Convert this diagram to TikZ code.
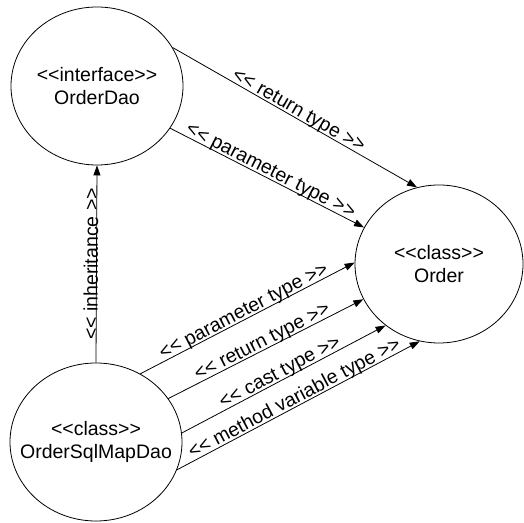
\documentclass[tikz,border=0pt]{standalone}
\usepackage{fontspec}
\newfontfamily\umlfont{Liberation Sans}
\usetikzlibrary{arrows.meta,shapes.geometric}
\begin{document}
\begin{tikzpicture}[x=1pt,y=1pt,
  umltext/.style={font=\umlfont\fontsize{19.5}{23}\selectfont},
  umlnode/.style={draw, ellipse, line width=0.8pt, minimum width=172pt,
    minimum height=158pt, inner sep=0pt},
  umlname/.style={label={[umltext, align=center]center:#1}},
  dep/.style={draw, line width=0.8pt, -{Triangle[length=10pt,width=7pt]}},
  lbl/.style={sloped, above=-2pt, pos=0.5, inner sep=0pt, umltext}]
\useasboundingbox (0,0) rectangle (524,522);

% classes (the name is a centred label so it does not widen the ellipse)
\node[umlnode, umlname={<<interface>>\\OrderDao}] (dao) at (97,436) {};
\node[umlnode, minimum width=168pt, umlname={<<class>>\\Order}] (order) at (439,258) {};
\node[umlnode, umlname={<<class>>\\OrderSqlMapDao}] (sqldao) at (96,80) {};

% dependencies of the interface
\draw[dep] (dao.27.5) -- node[lbl] {<< return type >>} (order.106);
\draw[dep] (dao.-30.6) -- node[lbl] {<< parameter type >>} (order.154.7);

% inheritance
\draw[dep] (sqldao.north) -- node[lbl] {<< inheritance >>} (dao.south);

% dependencies of the implementation
\draw[dep] (sqldao.57.5) -- node[lbl] {<< parameter type >>} (order.179.3);
\draw[dep] (sqldao.31.4) -- node[lbl] {<< return type >>} (order.205.3);
\draw[dep] (sqldao.6.6) -- node[lbl] {<< cast type >>} (order.229.8);
\draw[dep] (sqldao.-19) -- node[lbl] {<< method variable type >>} (order.256.5);
\end{tikzpicture}
\end{document}
